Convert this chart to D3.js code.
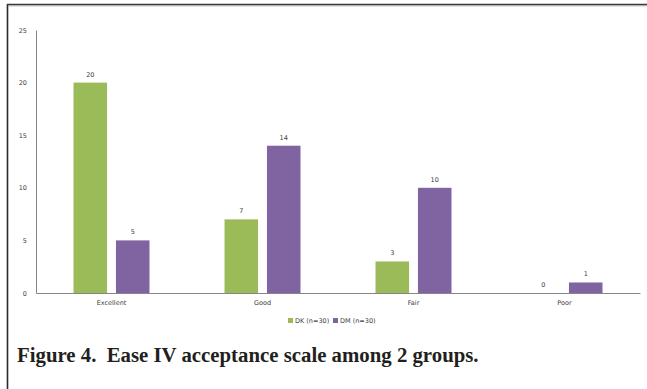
<!DOCTYPE html>
<html><head><meta charset="utf-8">
<script src="https://cdn.jsdelivr.net/npm/d3@7"></script>
<style>html,body{margin:0;padding:0;background:#fff;}</style>
</head><body>
<script>
const categories = ["Excellent", "Good", "Fair", "Poor"];
const seriesNames = ["DK (n=30)", "DM (n=30)"];
const dkValues = [20, 7, 3, 0];
const dmValues = [5, 14, 10, 1];
const yTicks = [0, 5, 10, 15, 20, 25];
const colors = ["#9BBB59", "#8064A2"];
const caption = "Figure 4.  Ease IV acceptance scale among 2 groups.";

(function () {
const W = 647, H = 389;
const svg = d3.select("body").append("svg").attr("width", W).attr("height", H);

// frame
svg.append("line").attr("x1", 7.5).attr("x2", 7.5).attr("y1", 4).attr("y2", H).attr("stroke", "#2a2a2a").attr("stroke-width", 1.6);
svg.append("line").attr("x1", 7).attr("x2", W).attr("y1", 4.5).attr("y2", 4.5).attr("stroke", "#3a3a3a").attr("stroke-width", 1.6);
svg.append("line").attr("x1", 8).attr("x2", W).attr("y1", 5.8).attr("y2", 5.8).attr("stroke", "#999").attr("stroke-width", 0.8);

const mLeft = 36, mRight = 640, mTop = 30, mBottom = 293;
const x0 = d3.scaleBand().domain(categories).range([mLeft, mRight]).paddingInner(0).paddingOuter(0);
const x1 = d3.scaleBand().domain(seriesNames).range([0, 76]).paddingInner(0.21).paddingOuter(0);
const y = d3.scaleLinear().domain([0, 25]).range([mBottom, mTop]);

const font = "'DejaVu Sans', sans-serif";

// y axis
const yAxis = svg.append("g").attr("transform", `translate(${mLeft},0)`)
  .call(d3.axisLeft(y).tickValues(yTicks).tickSize(0).tickPadding(9));
yAxis.select(".domain").attr("stroke", "#868686").attr("stroke-width", 1);
yAxis.selectAll("text").attr("font-family", font).attr("font-size", 6.5).attr("fill", "#404040");

// x axis
const xAxis = svg.append("g").attr("transform", `translate(0,${mBottom})`)
  .call(d3.axisBottom(x0).tickSize(0).tickPadding(7));
xAxis.select(".domain").attr("stroke", "#868686").attr("stroke-width", 1);
xAxis.selectAll("text").attr("font-family", font).attr("font-size", 6.5).attr("fill", "#404040");

const data = categories.map((c, i) => ({cat: c, vals: [dkValues[i], dmValues[i]]}));
const groups = svg.append("g").selectAll("g").data(data).join("g")
  .attr("transform", d => `translate(${x0(d.cat) + x0.bandwidth()/2 - 38},0)`);

groups.selectAll("rect").data(d => d.vals.map((v, j) => ({v, s: seriesNames[j], j})))
  .join("rect")
  .attr("x", d => x1(d.s)).attr("width", x1.bandwidth())
  .attr("y", d => y(d.v)).attr("height", d => mBottom - y(d.v))
  .attr("fill", d => colors[d.j]);

groups.selectAll("text").data(d => d.vals.map((v, j) => ({v, s: seriesNames[j], j})))
  .join("text")
  .attr("x", d => x1(d.s) + x1.bandwidth()/2)
  .attr("y", d => y(d.v) - 6)
  .attr("text-anchor", "middle")
  .attr("font-family", font).attr("font-size", 6.5).attr("fill", "#404040")
  .text(d => d.v);

// legend
const legend = svg.append("g").attr("transform", "translate(288,321)");
const li = legend.selectAll("g").data(seriesNames).join("g")
  .attr("transform", (d, i) => `translate(${i * 45},0)`);
li.append("rect").attr("x", 0).attr("y", -3).attr("width", 5).attr("height", 5).attr("fill", (d, i) => colors[i]);
li.append("text").attr("x", 7).attr("y", 2.2).attr("font-family", font).attr("font-size", 6.5).attr("fill", "#404040").text(d => d);

// caption
svg.append("text").attr("x", 17).attr("y", 362)
  .style("white-space", "pre")
  .attr("font-family", "'Liberation Serif', serif").attr("font-weight", "bold")
  .attr("font-size", 20.8).attr("fill", "#231f20").text(caption);
})();
</script>
</body></html>
